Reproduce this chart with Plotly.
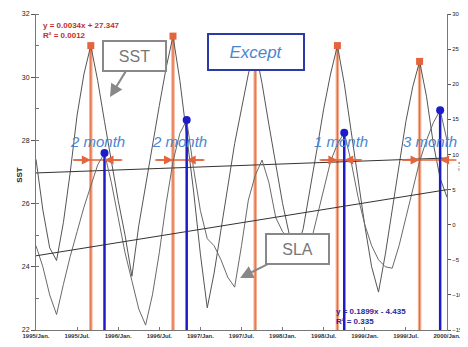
import plotly.graph_objects as go

# ---------------- data ----------------
months = list(range(61))  # Jan 1995 .. Jan 2000
tick_months = [0, 6, 12, 18, 24, 30, 36, 42, 48, 54, 60]
tick_labels = ["1995/Jan.", "1995/Jul.", "1996/Jan.", "1996/Jul.", "1997/Jan.", "1997/Jul.",
               "1998/Jan.", "1998/Jul.", "1999/Jan.", "1999/Jul.", "2000/Jan."]

sst = [27.4, 25.8, 24.6, 24.2, 25.4, 27.0, 28.8, 30.1, 31.0, 29.9,
       28.6, 27.3, 26.1, 25.0, 23.7, 25.3, 26.6, 27.9, 29.1, 30.3,
       31.3, 29.9, 28.2, 26.4, 24.4, 22.7, 23.8, 25.2, 26.6, 27.9,
       29.0, 30.1, 30.9, 29.8, 28.5, 27.2, 26.0, 25.0, 24.5, 25.2,
       26.4, 27.7, 29.0, 30.1, 31.0, 29.8, 28.3, 26.8, 25.3, 24.0,
       23.2, 24.4, 25.8, 27.2, 28.6, 29.7, 30.5, 29.4, 27.9, 26.8, 26.2]

sla = [-3, -6, -10, -12.8, -8.5, -4.5, -1, 2.5, 5.5, 8.5,
       10.2, 6, 1, -4, -8, -12, -14.3, -10, -4, 3,
       9, 13, 14.9, 8, 2, -2, -3, -5, -7.5, -8.9,
       -3, 3.5, 7, 9.2, 6, 1, -1, -2, -3, -3.5,
       -3, 1, 5, 9, 11.5, 13.1, 9, 4, 0, -3,
       -5, -6, -6.2, -3, 1, 5, 9, 12, 14.5, 16.3, 12]

sst_peak_months = [8, 20, 32, 44, 56]
sla_peak_months = [10, 22, 45, 59]
lag_sst_months = [8, 20, 44, 56]
lag_labels = ["2 month", "2 month", "1 month", "3 month"]

sst_trend = (0.0079, 26.97)     # slope, intercept (as drawn)
sla_trend = (0.157, -4.435)
sst_eq = ["y = 0.0034x + 27.347", "R² = 0.0012"]
sla_eq = ["y = 0.1899x - 4.435", "R² = 0.335"]

SST_RANGE = [22, 32]
SLA_RANGE = [-15, 30]
lag_level = 27.38   # SST units, height of lag arrows
lag_text_level = 27.95

ORANGE = "#e4643c"
ORANGE_L = "#f3ae90"
BLUE = "#1c1cc8"
TXT_BLUE = "#4a86d0"
FONT = "Liberation Sans, Arial, sans-serif"

fig = go.Figure()

# vertical orange lines at SST peaks
for m in sst_peak_months:
    v = sst[m]
    fig.add_trace(go.Scatter(x=[m, m], y=[v, SST_RANGE[0]], mode="lines",
                             line=dict(color=ORANGE_L, width=3.5), yaxis="y", showlegend=False, hoverinfo="skip"))
    fig.add_trace(go.Scatter(x=[m, m], y=[v, SST_RANGE[0]], mode="lines",
                             line=dict(color=ORANGE, width=1), yaxis="y", showlegend=False, hoverinfo="skip"))
# vertical blue lines at SLA peaks
for m in sla_peak_months:
    v = sla[m]
    fig.add_trace(go.Scatter(x=[m, m], y=[v, SLA_RANGE[0]], mode="lines",
                             line=dict(color=BLUE, width=2.5), yaxis="y2", showlegend=False, hoverinfo="skip"))

# series
fig.add_trace(go.Scatter(x=months, y=sst, mode="lines", line=dict(color="#555555", width=1),
                         yaxis="y", name="SST", showlegend=False))
fig.add_trace(go.Scatter(x=months, y=sla, mode="lines", line=dict(color="#6a6a6a", width=1),
                         yaxis="y2", name="SLA", showlegend=False))

# trend lines
tx = [months[0], months[-1]]
fig.add_trace(go.Scatter(x=tx, y=[sst_trend[1] + sst_trend[0] * t for t in tx], mode="lines",
                         line=dict(color="#333333", width=1), yaxis="y", showlegend=False))
fig.add_trace(go.Scatter(x=tx, y=[sla_trend[1] + sla_trend[0] * t for t in tx], mode="lines",
                         line=dict(color="#333333", width=1), yaxis="y2", showlegend=False))

# peak markers
fig.add_trace(go.Scatter(x=sst_peak_months, y=[sst[m] for m in sst_peak_months], mode="markers",
                         marker=dict(symbol="square", size=7, color=ORANGE), yaxis="y", showlegend=False))
fig.add_trace(go.Scatter(x=sla_peak_months, y=[sla[m] for m in sla_peak_months], mode="markers",
                         marker=dict(symbol="circle", size=8, color=BLUE), yaxis="y2", showlegend=False))

annotations = []
# lag arrows
for mo, mb, lab in zip(lag_sst_months, sla_peak_months, lag_labels):
    fig.add_trace(go.Scatter(x=[mo - 2.6, mb + 2.6], y=[lag_level, lag_level], mode="lines",
                             line=dict(color=ORANGE, width=1.5), yaxis="y", showlegend=False, hoverinfo="skip"))
    annotations.append(dict(x=mo, y=lag_level, ax=mo - 2.6, ay=lag_level, xref="x", yref="y",
                            axref="x", ayref="y", showarrow=True, arrowhead=2, arrowsize=1.2,
                            arrowwidth=1.5, arrowcolor=ORANGE, text=""))
    annotations.append(dict(x=mb, y=lag_level, ax=mb + 2.6, ay=lag_level, xref="x", yref="y",
                            axref="x", ayref="y", showarrow=True, arrowhead=2, arrowsize=1.2,
                            arrowwidth=1.5, arrowcolor=ORANGE, text=""))
    annotations.append(dict(x=(mo + mb) / 2, y=lag_text_level, xref="x", yref="y", text="<i>" + lab + "</i>",
                            showarrow=False, font=dict(family=FONT, size=15, color=TXT_BLUE)))

# labelled boxes
annotations.append(dict(x=10.8, y=29.37, xref="x", yref="y", ax=25, ay=-41, text="SST",
                        showarrow=True, arrowhead=2, arrowsize=1.3, arrowwidth=2, arrowcolor="#888888",
                        font=dict(family=FONT, size=16, color="#777777"), bgcolor="white",
                        bordercolor="#888888", borderwidth=2, borderpad=3, width=55, height=22))
annotations.append(dict(x=29.8, y=-7.6, xref="x", yref="y2", ax=57, ay=-29, text="SLA",
                        showarrow=True, arrowhead=2, arrowsize=1.3, arrowwidth=2, arrowcolor="#888888",
                        font=dict(family=FONT, size=16, color="#777777"), bgcolor="white",
                        bordercolor="#888888", borderwidth=2, borderpad=3, width=55, height=22))
annotations.append(dict(x=0.535, y=0.94, xref="paper", yref="paper", text="<i>Except</i>",
                        showarrow=False, font=dict(family=FONT, size=17, color=TXT_BLUE), bgcolor="white",
                        bordercolor="#2a3aa8", borderwidth=2, borderpad=3, width=88, height=28))
# equations
annotations.append(dict(x=0.012, y=0.985, xref="paper", yref="paper", xanchor="left", yanchor="top",
                        text="<b>" + "<br>".join(sst_eq) + "</b>", align="left", showarrow=False,
                        font=dict(family=FONT, size=8, color="#c0302a")))
annotations.append(dict(x=0.725, y=0.08, xref="paper", yref="paper", xanchor="left", yanchor="top",
                        text="<b>" + "<br>".join(sla_eq) + "</b>", align="left", showarrow=False,
                        font=dict(family=FONT, size=8, color="#2a2a9a")))
# axis titles
annotations.append(dict(x=-0.058, y=0.49, xref="paper", yref="paper", text="<b>SST</b>", textangle=-90,
                        showarrow=False, font=dict(family=FONT, size=8, color="#222222")))
annotations.append(dict(x=1.042, y=0.52, xref="paper", yref="paper", text="SLA", textangle=-90,
                        showarrow=False, font=dict(family=FONT, size=5, color="#555555")))

# page body has an 8px default margin: the figure is sized/margined so the plot area
# lands at x 36..447, y 14..330 in the 468x347 window
fig.update_layout(
    width=460, height=339,
    margin=dict(l=28, r=21, t=6, b=17, autoexpand=False),
    paper_bgcolor="white", plot_bgcolor="white",
    font=dict(family=FONT, size=7, color="#222222"),
    showlegend=False,
    annotations=annotations,
    xaxis=dict(range=[0, 60], tickmode="array", tickvals=tick_months,
               ticktext=["<b>" + t + "</b>" for t in tick_labels],
               showgrid=False, zeroline=False, showline=True, linecolor="#777777", linewidth=1,
               ticks="inside", ticklen=3, tickcolor="#777777",
               tickfont=dict(family=FONT, size=6, color="#333333")),
    yaxis=dict(range=SST_RANGE, dtick=2, showgrid=False, zeroline=False, showline=True,
               linecolor="#777777", linewidth=1, ticks="outside", ticklen=4, tickcolor="#555555",
               tickfont=dict(family=FONT, size=7, color="#222222"),
               minor=dict(dtick=1, ticks="inside", ticklen=3, tickcolor="#777777")),
    yaxis2=dict(range=SLA_RANGE, dtick=5, overlaying="y", side="right", showgrid=False,
                zeroline=False, showline=True, linecolor="#777777", linewidth=1,
                ticks="outside", ticklen=3, tickcolor="#555555",
                tickfont=dict(family=FONT, size=6, color="#222222")),
)

fig.write_html("out.html")
